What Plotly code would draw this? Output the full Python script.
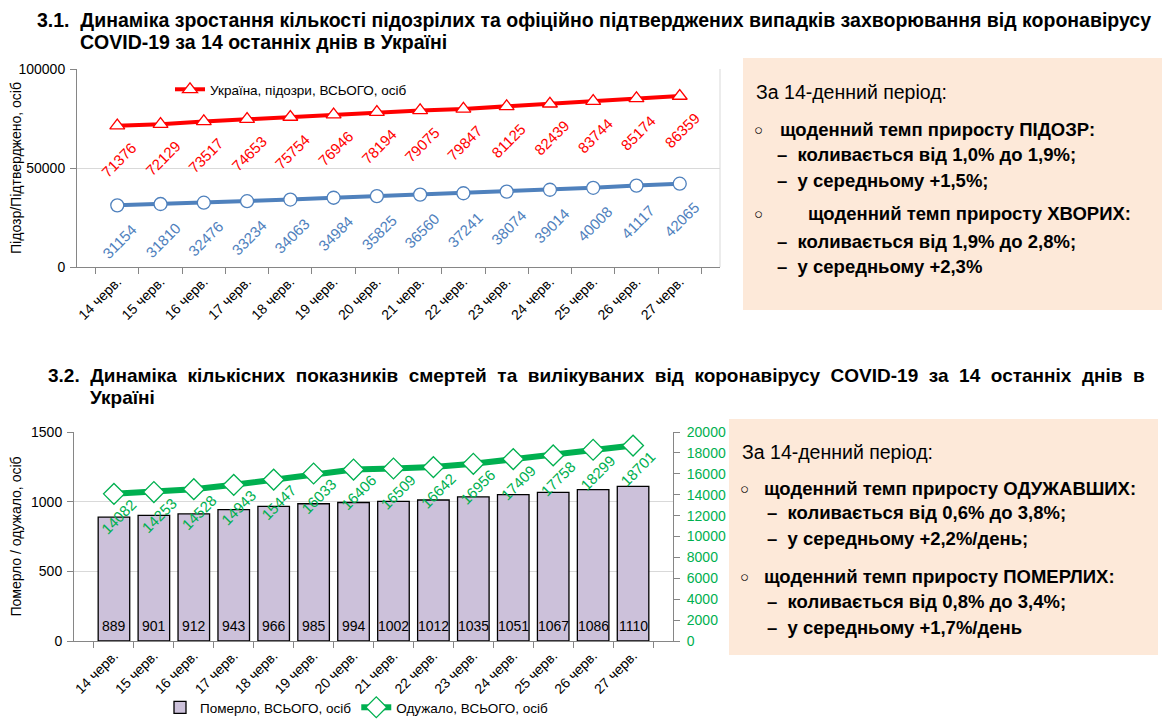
import plotly.graph_objects as go

days = ["14 черв.", "15 черв.", "16 черв.", "17 черв.", "18 черв.", "19 черв.", "20 черв.",
        "21 черв.", "22 черв.", "23 черв.", "24 черв.", "25 черв.", "26 черв.", "27 черв."]
suspected = [71376, 72129, 73517, 74653, 75754, 76946, 78194, 79075, 79847, 81125, 82439, 83744, 85174, 86359]
confirmed = [31154, 31810, 32476, 33234, 34063, 34984, 35825, 36560, 37241, 38074, 39014, 40008, 41117, 42065]
deaths = [889, 901, 912, 943, 966, 985, 994, 1002, 1012, 1035, 1051, 1067, 1086, 1110]
recovered = [14082, 14253, 14528, 14943, 15447, 16033, 16406, 16509, 16642, 16956, 17409, 17758, 18299, 18701]

# The page has an 8px body margin; the figure is sized to fill the rest of the window.
OFF = 8
W, H = 1170 - OFF, 723 - OFF
RED = "#ff0000"
BLUE = "#4f81bd"
GREEN = "#00b050"
BAR = "#ccc1da"
BOX = "#fde9d9"
AXC = "#868686"
GRID = "#d9d9d9"
FONT = "Liberation Sans, Arial, sans-serif"

def px(x):
    return (x - OFF) / W

def py(y):
    return 1 - (y - OFF) / H

fig = go.Figure()

# Chart 1
fig.add_trace(go.Scatter(x=days, y=suspected, mode="lines+markers", name="Україна, підозри, ВСЬОГО, осіб",
                         line=dict(color=RED, width=4),
                         marker=dict(symbol="triangle-up", size=13, color="white", line=dict(color=RED, width=1.3)),
                         xaxis="x", yaxis="y", legend="legend"))
fig.add_trace(go.Scatter(x=days, y=confirmed, mode="lines+markers", name="Україна, підтверджено, ВСЬОГО, осіб",
                         line=dict(color=BLUE, width=4),
                         marker=dict(symbol="circle", size=13, color="white", line=dict(color=BLUE, width=1.3)),
                         xaxis="x", yaxis="y", showlegend=False))

# Chart 2
fig.add_trace(go.Bar(x=days, y=deaths, name="Померло, ВСЬОГО, осіб", width=0.79,
                     marker=dict(color=BAR, line=dict(color="black", width=1.3)),
                     xaxis="x2", yaxis="y2", legend="legend2"))
fig.add_trace(go.Scatter(x=days, y=recovered, mode="lines+markers", name="Одужало, ВСЬОГО, осіб",
                         line=dict(color=GREEN, width=6),
                         marker=dict(symbol="diamond", size=16, color="white", line=dict(color=GREEN, width=1.3)),
                         xaxis="x2", yaxis="y3", legend="legend2"))

annotations = []
for d, v in zip(days, suspected):
    annotations.append(dict(x=d, y=v, xref="x", yref="y", text=str(v), showarrow=False, textangle=-45,
                            yshift=-34, xshift=2, font=dict(family=FONT, size=15, color=RED)))
for d, v in zip(days, confirmed):
    annotations.append(dict(x=d, y=v, xref="x", yref="y", text=str(v), showarrow=False, textangle=-45,
                            yshift=-36, xshift=2, font=dict(family=FONT, size=15, color=BLUE)))
for d, v in zip(days, recovered):
    annotations.append(dict(x=d, y=v, xref="x2", yref="y3", text=str(v), showarrow=False, textangle=-45,
                            yshift=-23, xshift=5, font=dict(family=FONT, size=15, color=GREEN)))
for d, v in zip(days, deaths):
    annotations.append(dict(x=d, y=0, xref="x2", yref="y2", text=str(v), showarrow=False,
                            yshift=15, font=dict(family=FONT, size=14, color="black")))

def txt(x, y, s, size=17, bold=False, color="black", family=FONT, pad=1):
    annotations.append(dict(x=px(x), y=py(y), xref="paper", yref="paper", xanchor="left", yanchor="middle",
                            text=("<b>%s</b>" % s) if bold else s, showarrow=False, borderpad=pad,
                            font=dict(family=family, size=size, color=color)))

# Titles
txt(36, 20, "3.1.  Динаміка зростання кількості підозрілих та офіційно підтверджених випадків захворювання від коронавірусу", size=19.5, bold=True, pad=0)
txt(78, 42, "COVID-19 за 14 останніх днів в Україні", size=19.5, bold=True)
txt(46, 375, "3.2.  Динаміка  кількісних  показників  смертей  та  вилікуваних  від  коронавірусу  COVID-19  за  14  останніх  днів  в", size=19, bold=True)
txt(88, 398, "Україні", size=19, bold=True)

BS = 18.5
RS = 19.5
# Box 1 text
txt(754, 92, "За 14-денний період:", size=RS)
txt(752, 129, "○", size=15)
txt(778, 129, "щоденний темп приросту ПІДОЗР:", size=BS, bold=True)
txt(775, 155, "–  коливається від 1,0% до 1,9%;", size=BS, bold=True)
txt(775, 181, "–  у середньому +1,5%;", size=BS, bold=True)
txt(752, 214, "○", size=15)
txt(806, 214, "щоденний темп приросту ХВОРИХ:", size=BS, bold=True)
txt(775, 241, "–  коливається від 1,9% до 2,8%;", size=BS, bold=True)
txt(775, 267, "–  у середньому +2,3%", size=BS, bold=True)

# Box 2 text
txt(740, 452, "За 14-денний період:", size=RS)
txt(738, 488, "○", size=15)
txt(762, 488, "щоденний темп приросту ОДУЖАВШИХ:", size=BS, bold=True)
txt(765, 513, "–  коливається від 0,6% до 3,8%;", size=BS, bold=True)
txt(765, 538, "–  у середньому +2,2%/день;", size=BS, bold=True)
txt(738, 576, "○", size=15)
txt(762, 576, "щоденний темп приросту ПОМЕРЛИХ:", size=BS, bold=True)
txt(765, 601, "–  коливається від 0,8% до 3,4%;", size=BS, bold=True)
txt(765, 627, "–  у середньому +1,7%/день", size=BS, bold=True)

shapes = [
    dict(type="rect", xref="paper", yref="paper", x0=px(743), x1=px(1170), y0=py(310), y1=py(58),
         fillcolor=BOX, line=dict(width=0), layer="below"),
    dict(type="rect", xref="paper", yref="paper", x0=px(729), x1=px(1158), y0=py(655), y1=py(419),
         fillcolor=BOX, line=dict(width=0), layer="below"),
    dict(type="line", xref="x domain", yref="y domain", x0=1, x1=1, y0=0, y1=1,
         line=dict(color=GRID, width=1)),
]

tickfont = dict(family=FONT, size=14, color="black")
xtickfont = dict(family=FONT, size=14, color="black")

fig.update_layout(
    width=W, height=H, margin=dict(l=0, r=0, t=0, b=0, autoexpand=False),
    paper_bgcolor="white", plot_bgcolor="rgba(0,0,0,0)",
    font=dict(family=FONT, size=14, color="black"),
    annotations=annotations, shapes=shapes,
    xaxis=dict(domain=[px(77), px(720)], anchor="y", type="category", tickson="boundaries",
               ticks="outside", ticklen=6, tickcolor=AXC, showline=True, linecolor=AXC, linewidth=1,
               showgrid=False, tickangle=-45, tickfont=xtickfont, automargin=False),
    yaxis=dict(domain=[py(267), py(69)], anchor="x", range=[0, 100000], tickvals=[0, 50000, 100000],
               ticktext=["0", "50000", "100000"], ticks="outside", ticklen=6, tickcolor=AXC,
               showline=True, linecolor=AXC, showgrid=True, gridcolor=GRID, zeroline=False,
               tickfont=tickfont, ticklabelstandoff=2, automargin=False,
               title=dict(text="Підозр/Підтверджено, осіб", font=dict(family=FONT, size=14), standoff=4)),
    xaxis2=dict(domain=[px(74), px(673)], anchor="y2", type="category", tickson="boundaries",
                ticks="outside", ticklen=6, tickcolor=AXC, showline=True, linecolor=AXC,
                showgrid=False, tickangle=-45, tickfont=xtickfont, automargin=False),
    yaxis2=dict(domain=[py(641), py(432)], anchor="x2", range=[0, 1500], tickvals=[0, 500, 1000, 1500],
                ticks="outside", ticklen=6, tickcolor=AXC, showline=True, linecolor=AXC,
                showgrid=True, gridcolor=GRID, zeroline=False, tickfont=tickfont, ticklabelstandoff=2,
                automargin=False,
                title=dict(text="Померло / одужало, осіб", font=dict(family=FONT, size=14), standoff=6)),
    yaxis3=dict(overlaying="y2", anchor="x2", side="right", range=[0, 20000], tickformat="d",
                tickvals=list(range(0, 20001, 2000)), ticks="outside", ticklen=6, tickcolor=AXC,
                showline=True, linecolor=AXC, showgrid=False, zeroline=False, automargin=False,
                tickfont=dict(family=FONT, size=14, color=GREEN), ticklabelstandoff=4),
    legend=dict(x=px(170), y=py(74), xanchor="left", yanchor="top", bgcolor="rgba(0,0,0,0)",
                font=dict(family=FONT, size=13.5), itemwidth=30),
    legend2=dict(x=px(160), y=py(692), xanchor="left", yanchor="top", orientation="h",
                 bgcolor="rgba(0,0,0,0)", font=dict(family=FONT, size=13.5), itemwidth=30),
)

fig.write_html("out.html")
